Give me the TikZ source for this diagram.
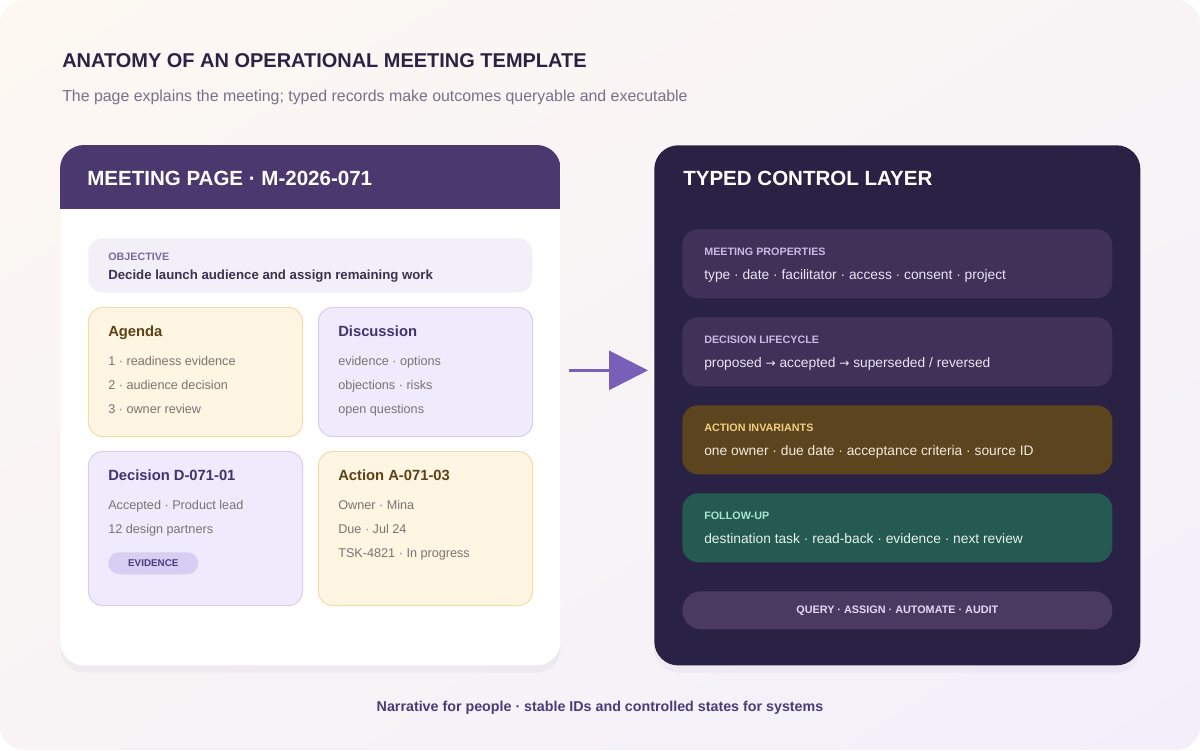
\documentclass[tikz,border=0pt]{standalone}
\usepackage{fontspec}
\setmainfont{Liberation Sans}
\newfontfamily\symfont{DejaVu Sans}
\usetikzlibrary{positioning,calc,shadows,shadings,arrows.meta}

\definecolor{bgA}{HTML}{FDF8F1}
\definecolor{bgB}{HTML}{F3EFFA}
\definecolor{bgM}{HTML}{F8F4F6}
\definecolor{ink}{HTML}{2A2344}
\definecolor{subink}{HTML}{77708A}
\definecolor{hdrpurple}{HTML}{4B386F}
\definecolor{objfill}{HTML}{F2EFF8}
\definecolor{objlabel}{HTML}{7B6A9A}
\definecolor{objink}{HTML}{3A3350}
\definecolor{creamfill}{HTML}{FEF6E3}
\definecolor{creamline}{HTML}{F0DCA6}
\definecolor{creamink}{HTML}{5C4214}
\definecolor{lavfill}{HTML}{EFEBFC}
\definecolor{lavline}{HTML}{D5CEF2}
\definecolor{lavink}{HTML}{3F3470}
\definecolor{itemink}{HTML}{7A7370}
\definecolor{badgefill}{HTML}{D8CDF2}
\definecolor{badgeink}{HTML}{4B3C80}
\definecolor{flowcol}{HTML}{7A5FB8}
\definecolor{ctlfill}{HTML}{2A2244}
\definecolor{propfill}{HTML}{3F3157}
\definecolor{proplabel}{HTML}{C9B8EA}
\definecolor{proptext}{HTML}{EAE4F3}
\definecolor{actfill}{HTML}{5B441E}
\definecolor{actlabel}{HTML}{F2CF80}
\definecolor{acttext}{HTML}{F3EBDD}
\definecolor{fupfill}{HTML}{245A50}
\definecolor{fuplabel}{HTML}{A8E6D0}
\definecolor{fuptext}{HTML}{E4F2EC}
\definecolor{queryfill}{HTML}{4A3A62}
\definecolor{queryink}{HTML}{E2D8F2}
\definecolor{footink}{HTML}{4B3C78}

\newcommand{\nextstep}{{\symfont\fontsize{8.6}{10}\selectfont →}}

\begin{document}
\begin{tikzpicture}[
  x=0.025cm, y=-0.025cm,
  txt/.style      = {inner sep=0pt, anchor=base west},
  maintitle/.style= {txt, font=\fontsize{14.2}{16}\selectfont\bfseries, text=ink},
  subtitle/.style = {txt, font=\fontsize{11.3}{13}\selectfont, text=subink},
  cardtitle/.style= {txt, font=\fontsize{14.6}{17}\selectfont\bfseries, text=white},
  caplabel/.style = {txt, font=\fontsize{7.65}{9}\selectfont\bfseries},
  boxtitle/.style = {txt, font=\fontsize{10.5}{12}\selectfont\bfseries},
  item/.style     = {txt, font=\fontsize{9}{11}\selectfont, text=itemink},
  rtext/.style    = {txt, font=\fontsize{9.8}{12}\selectfont},
  card/.style     = {anchor=north west, inner sep=0pt, rounded corners=0.6cm,
                     minimum height=13cm,
                     drop shadow={shadow xshift=0cm, shadow yshift=-0.18cm,
                                  opacity=0.045, fill=hdrpurple}},
  minibox/.style  = {anchor=north west, inner sep=0pt, rounded corners=0.35cm,
                     line width=0.7pt, minimum width=5.35cm},
  cream/.style    = {minibox, fill=creamfill, draw=creamline},
  lav/.style      = {minibox, fill=lavfill, draw=lavline},
  prop/.style     = {anchor=north west, inner sep=0pt, rounded corners=0.4cm,
                     minimum width=10.75cm, minimum height=1.725cm},
  flow/.style     = {-{Triangle[length=0.975cm, width=0.975cm]},
                     line width=2.1pt, draw=flowcol},
]
% background
\useasboundingbox (0,0) rectangle (1200,750);
\fill[white] (0,0) rectangle (1200,750);
\shade[rounded corners=0.6cm, upper left=bgA, upper right=bgM,
       lower left=bgM, lower right=bgB] (0,0) rectangle (1200,750);

\node[maintitle] (ttl) at (62,67) {ANATOMY OF AN OPERATIONAL MEETING TEMPLATE};
\node[subtitle]  (sub) at (62,101)
  {The page explains the meeting; typed records make outcomes queryable and executable};

% meeting page
\node[card, fill=white, minimum width=12.5cm] (mpage) at (60,145) {};
\begin{scope}
  \clip[rounded corners=0.6cm] (mpage.north west) rectangle (mpage.south east);
  \fill[hdrpurple] (mpage.north west) rectangle ($(mpage.north east)+(0,64)$);
\end{scope}
\node[cardtitle] (mptitle) at (87,185) {MEETING PAGE · M-2026-071};

\node[anchor=north west, inner sep=0pt, rounded corners=0.35cm, fill=objfill,
      minimum width=11.1cm, minimum height=1.35cm] (obj) at (88,238) {};
\node[caplabel, text=objlabel] (objlbl) at (108,260) {OBJECTIVE};
\node[txt, font=\fontsize{9.4}{11}\selectfont\bfseries, text=objink] (objtxt) at (108,279)
  {Decide launch audience and assign remaining work};

\node[cream, minimum height=3.225cm] (agenda) at (88,307) {};
\node[boxtitle, text=creamink] (agt) at (108,336) {Agenda};
\node[item] (ag1) at (108,365) {1 · readiness evidence};
\node[item] (ag2) at (108,389) {2 · audience decision};
\node[item] (ag3) at (108,413) {3 · owner review};

\node[lav, minimum height=3.225cm] (disc) at (318,307) {};
\node[boxtitle, text=lavink] (dit) at (338,336) {Discussion};
\node[item] (di1) at (338,365) {evidence · options};
\node[item] (di2) at (338,389) {objections · risks};
\node[item] (di3) at (338,413) {open questions};

\node[lav, minimum height=3.85cm] (dec) at (88,451) {};
\node[boxtitle, text=lavink] (det) at (108,480) {Decision D-071-01};
\node[item] (de1) at (108,509) {Accepted · Product lead};
\node[item] (de2) at (108,533) {12 design partners};
\node[anchor=north west, inner sep=0pt, rounded corners=0.275cm, fill=badgefill,
      minimum width=2.25cm, minimum height=0.55cm,
      font=\fontsize{7}{8}\selectfont\bfseries, text=badgeink] (badge) at (108,552) {EVIDENCE};

\node[cream, minimum height=3.85cm] (act) at (318,451) {};
\node[boxtitle, text=creamink] (act0) at (338,480) {Action A-071-03};
\node[item] (ac1) at (338,509) {Owner · Mina};
\node[item] (ac2) at (338,533) {Due · Jul 24};
\node[item] (ac3) at (338,557) {TSK-4821 · In progress};

% typed control layer
\node[card, fill=ctlfill, minimum width=12.15cm] (ctl) at (654,145) {};
\node[cardtitle] (ctltitle) at (683,185) {TYPED CONTROL LAYER};

\node[prop, fill=propfill] (mprop) at (682,229) {};
\node[caplabel, text=proplabel] (mpl) at (704,255) {MEETING PROPERTIES};
\node[rtext, text=proptext] (mpt) at (704,279) {type · date · facilitator · access · consent · project};

\node[prop, fill=propfill] (dlife) at (682,317) {};
\node[caplabel, text=proplabel] (dll) at (704,343) {DECISION LIFECYCLE};
\node[rtext, text=proptext] (dlt) at (704,367)
  {proposed \nextstep{} accepted \nextstep{} superseded / reversed};

\node[prop, fill=actfill] (ainv) at (682,405) {};
\node[caplabel, text=actlabel] (ail) at (704,431) {ACTION INVARIANTS};
\node[rtext, text=acttext] (ait) at (704,455) {one owner · due date · acceptance criteria · source ID};

\node[prop, fill=fupfill] (fup) at (682,493) {};
\node[caplabel, text=fuplabel] (ful) at (704,519) {FOLLOW-UP};
\node[rtext, text=fuptext] (fut) at (704,543) {destination task · read-back · evidence · next review};

\node[anchor=north west, inner sep=0pt, rounded corners=0.475cm, fill=queryfill,
      minimum width=10.75cm, minimum height=0.95cm,
      font=\fontsize{7.7}{10}\selectfont\bfseries, text=queryink] (query) at (682,591)
  {QUERY · ASSIGN · AUTOMATE · AUDIT};

\draw[flow] ($(mpage.east)+(8,-35)$) -- ($(ctl.west)+(-6,-35)$);

\node[inner sep=0pt, anchor=base, font=\fontsize{10.15}{12}\selectfont\bfseries, text=footink]
  (foot) at (600,711) {Narrative for people · stable IDs and controlled states for systems};
\end{tikzpicture}
\end{document}
